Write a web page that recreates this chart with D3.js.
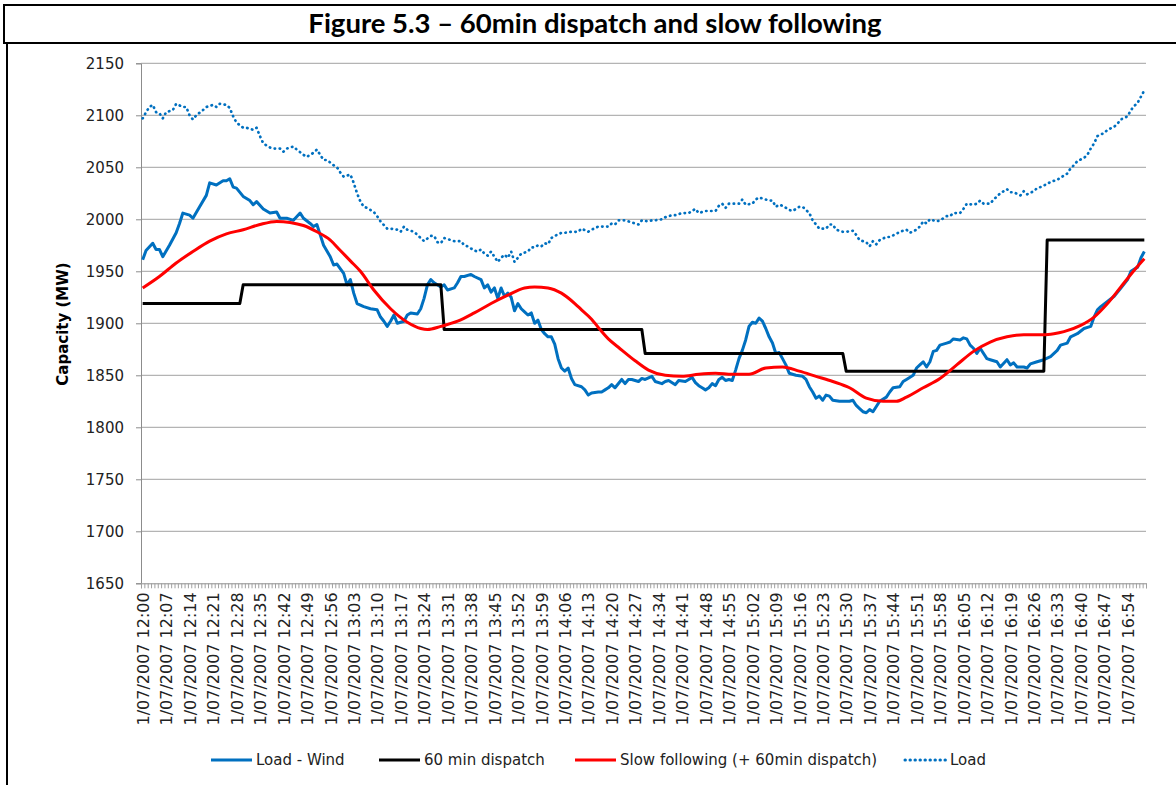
<!DOCTYPE html>
<html>
<head>
<meta charset="utf-8">
<script src="https://cdn.jsdelivr.net/npm/d3@7"></script>
<style>
  body { margin: 0; background: #fff; }
  svg { display: block; }
  .tick text { fill: #222; }
</style>
</head>
<body>
<svg width="1176" height="785"></svg>
<script>
// x values are minutes after 12:00 on 1/07/2007 (one category per minute)
var startHour = 12, nMinutes = 300;
var datePrefix = "1/07/2007 ";
var tickLabels = ["12:00","12:07","12:14","12:21","12:28","12:35","12:42","12:49","12:56","13:03",
  "13:10","13:17","13:24","13:31","13:38","13:45","13:52","13:59","14:06","14:13","14:20","14:27",
  "14:34","14:41","14:48","14:55","15:02","15:09","15:16","15:23","15:30","15:37","15:44","15:51",
  "15:58","16:05","16:12","16:19","16:26","16:33","16:40","16:47","16:54"];
var yTicks = [1650,1700,1750,1800,1850,1900,1950,2000,2050,2100,2150];

var seriesNames = ["Load - Wind", "60 min dispatch", "Slow following (+ 60min dispatch)", "Load"];

// Load - Wind  [minute, MW]
var loadWind = [[0,1961],[1,1970],[3,1977],[4,1971],[5,1971],[6,1964],[8,1975],[10,1987],[11,1996],[12,2006],
  [14,2004],[15,2001],[17,2012],[19,2023],[20,2035],[22,2033],[24,2037],[25,2037],[26,2039],[27,2031],[28,2030],
  [30,2022],[32,2018],[33,2014],[34,2017],[36,2010],[38,2006],[40,2007],[41,2001],[43,2001],[45,1999],[47,2006],
  [48,2001],[50,1996],[51,1993],[52,1995],[53,1985],[54,1975],[56,1964],[57,1956],[58,1957],[60,1948],[61,1937],
  [62,1942],[63,1929],[64,1919],[66,1916],[68,1914],[70,1913],[71,1906],[72,1902],[73,1897],[74,1902],[75,1908],
  [76,1900],[78,1902],[79,1908],[80,1910],[82,1909],[83,1914],[84,1924],[85,1937],[86,1942],[87,1939],[89,1935],
  [90,1937],[91,1932],[93,1934],[94,1939],[95,1945],[96,1945],[98,1947],[99,1945],[101,1942],[102,1934],[103,1937],
  [104,1930],[105,1934],[106,1924],[107,1934],[108,1926],[109,1929],[110,1925],[111,1912],[112,1919],[113,1914],
  [114,1911],[115,1908],[116,1910],[117,1900],[118,1903],[119,1894],[120,1890],[121,1887],[122,1887],[123,1880],
  [124,1866],[125,1857],[126,1854],[127,1857],[128,1847],[129,1841],[131,1839],[132,1836],[133,1831],[134,1833],
  [136,1834],[137,1834],[138,1836],[139,1838],[140,1841],[141,1838],[143,1846],[144,1842],[145,1846],[146,1846],
  [148,1844],[149,1847],[150,1846],[152,1849],[153,1844],[155,1842],[156,1844],[157,1845],[159,1841],[160,1845],
  [162,1844],[163,1846],[164,1848],[165,1843],[166,1840],[167,1838],[168,1836],[169,1838],[170,1842],[171,1840],
  [172,1846],[173,1848],[174,1845],[175,1846],[176,1845],[177,1855],[178,1866],[179,1874],[180,1884],[181,1897],
  [182,1901],[183,1900],[184,1905],[185,1902],[186,1895],[187,1887],[188,1881],[189,1871],[190,1872],[191,1866],
  [192,1860],[193,1852],[195,1850],[197,1849],[198,1846],[199,1839],[200,1834],[201,1828],[202,1830],[203,1826],
  [204,1831],[205,1830],[206,1826],[208,1825],[211,1825],[212,1826],[213,1821],[214,1818],[215,1815],[216,1814],
  [217,1817],[218,1815],[219,1820],[220,1825],[222,1829],[223,1834],[224,1838],[226,1839],[227,1844],[228,1846],
  [230,1850],[231,1857],[232,1860],[233,1863],[234,1858],[235,1863],[236,1873],[237,1874],[238,1879],[240,1881],
  [241,1882],[242,1885],[244,1884],[245,1886],[246,1885],[247,1879],[248,1876],[249,1871],[250,1876],[252,1866],
  [253,1865],[255,1863],[256,1858],[258,1865],[259,1860],[260,1862],[261,1858],[263,1858],[264,1857],[265,1861],
  [267,1863],[269,1865],[271,1868],[273,1874],[274,1879],[276,1881],[277,1887],[279,1890],[281,1895],[283,1897],
  [284,1906],[285,1913],[286,1916],[288,1921],[290,1926],[292,1934],[294,1942],[295,1950],[297,1954],[298,1963],
  [299,1969]];

// 60 min dispatch: hourly blocks, first minute of each block and its level
var dispatchStart = [0, 30, 90, 150, 210, 270];
var dispatchValue = [1919, 1937, 1894, 1871, 1854, 1980];

// Slow following (+ 60min dispatch)
var slowFollow = [[0,1934],[5,1945],[10,1958],[15,1969],[20,1979],[25,1986],[30,1990],[35,1995],[40,1998],
  [44,1997],[48,1994],[52,1988],[56,1980],[59,1970],[62,1960],[65,1950],[69,1932],[74,1914],[79,1901],[83,1895],
  [85,1894],[89,1897],[94,1902],[99,1910],[104,1919],[109,1927],[114,1934],[117,1935],[121,1934],[125,1929],
  [129,1919],[131,1913],[134,1904],[136,1896],[139,1885],[142,1877],[147,1864],[151,1855],[156,1850],[161,1849],
  [166,1851],[171,1852],[176,1851],[181,1851],[186,1857],[191,1858],[196,1854],[201,1849],[206,1844],[211,1838],
  [216,1828],[221,1825],[225,1825],[228,1829],[233,1838],[238,1847],[243,1860],[248,1873],[253,1882],[258,1887],
  [263,1889],[269,1889],[272,1890],[275,1892],[280,1898],[284,1906],[288,1919],[292,1935],[296,1951],[299,1962]];

// Load
var load = [[0,2097],[1,2103],[2,2108],[3,2110],[4,2103],[5,2102],[6,2097],[7,2103],[9,2105],[10,2111],[12,2108],
  [13,2108],[14,2100],[15,2096],[16,2100],[18,2105],[19,2108],[21,2110],[22,2108],[23,2111],[25,2110],[26,2107],
  [27,2099],[28,2093],[30,2088],[31,2088],[33,2086],[34,2088],[35,2080],[36,2073],[38,2069],[39,2068],[41,2068],
  [42,2065],[43,2068],[45,2070],[46,2067],[48,2062],[49,2060],[51,2064],[52,2067],[54,2057],[55,2057],[57,2052],
  [58,2050],[59,2045],[60,2041],[62,2043],[63,2035],[64,2025],[65,2017],[66,2012],[67,2011],[69,2007],[70,2003],
  [71,1998],[73,1991],[74,1991],[76,1990],[77,1988],[78,1993],[79,1990],[81,1988],[82,1985],[83,1982],[84,1979],
  [86,1984],[87,1984],[88,1978],[89,1977],[90,1982],[91,1981],[93,1979],[95,1979],[96,1975],[97,1974],[99,1970],
  [100,1969],[101,1971],[102,1967],[103,1965],[104,1969],[106,1959],[107,1963],[108,1966],[109,1963],[110,1969],
  [111,1959],[112,1963],[113,1967],[114,1968],[115,1969],[116,1973],[117,1973],[118,1975],[119,1974],[120,1977],
  [121,1976],[122,1982],[123,1984],[125,1987],[126,1987],[128,1988],[130,1988],[131,1991],[133,1988],[134,1990],
  [136,1993],[137,1993],[139,1993],[140,1996],[141,1995],[142,1999],[144,1999],[145,1998],[147,1996],[148,1995],
  [149,1999],[151,1998],[152,1999],[153,1999],[155,2000],[156,2002],[158,2004],[159,2004],[161,2006],[162,2006],
  [163,2006],[165,2010],[166,2006],[168,2008],[169,2008],[171,2008],[172,2013],[173,2015],[174,2011],[175,2015],
  [177,2015],[178,2015],[179,2019],[180,2014],[182,2015],[183,2019],[184,2021],[185,2020],[187,2018],[188,2018],
  [189,2012],[190,2014],[191,2013],[193,2009],[194,2008],[196,2012],[197,2012],[198,2009],[199,2006],[200,1999],
  [201,1995],[202,1991],[204,1991],[205,1995],[206,1995],[207,1990],[209,1988],[210,1988],[212,1989],[213,1985],
  [214,1980],[216,1978],[217,1974],[218,1979],[219,1976],[220,1980],[222,1983],[223,1983],[225,1986],[226,1988],
  [228,1990],[229,1987],[231,1990],[232,1993],[233,1998],[234,1996],[235,2000],[237,1998],[238,1999],[240,2003],
  [241,2003],[242,2006],[244,2006],[245,2010],[246,2015],[248,2014],[249,2015],[250,2018],[251,2015],[253,2015],
  [254,2019],[255,2022],[256,2025],[258,2029],[259,2026],[260,2026],[262,2023],[263,2027],[264,2024],[266,2027],
  [267,2030],[268,2031],[270,2034],[271,2036],[273,2038],[275,2042],[276,2044],[277,2049],[278,2052],[279,2056],
  [281,2059],[282,2062],[283,2068],[284,2073],[285,2080],[287,2083],[288,2086],[290,2089],[291,2092],[292,2096],
  [294,2099],[295,2105],[296,2109],[297,2112],[298,2118],[299,2124]];

var svg = d3.select("svg"),
    plotLeft = 141, plotRight = 1146, plotTop = 63.3, plotBottom = 583.3;

var blue = "#0070c0", red = "#ff0000";
var font = "'DejaVu Sans', Verdana, sans-serif";

// frame + title box
svg.append("rect").attr("x", 4).attr("y", 5).attr("width", 1190).attr("height", 38)
    .attr("fill", "none").attr("stroke", "#000").attr("stroke-width", 2);
svg.append("line").attr("x1", 7).attr("x2", 7).attr("y1", 43).attr("y2", 785)
    .attr("stroke", "#000").attr("stroke-width", 2);
svg.append("text").attr("x", 595).attr("y", 33).attr("text-anchor", "middle")
    .style("font-family", "Lato, 'Open Sans', sans-serif").style("font-weight", "bold").style("font-size", "27.5px")
    .text("Figure 5.3 \u2013 60min dispatch and slow following");

var x = d3.scaleLinear().domain([0, nMinutes]).range([plotLeft, plotRight]);
var y = d3.scaleLinear().domain([1650, 2150]).range([plotBottom, plotTop]);
function cx(m) { return x(m + 0.5); }

function minuteOf(label) {
  var p = label.split(":");
  return (+p[0] - startHour) * 60 + (+p[1]);
}

// gridlines
svg.append("g").selectAll("line").data(yTicks.slice(1)).enter().append("line")
    .attr("x1", plotLeft).attr("x2", plotRight)
    .attr("y1", function(d) { return y(d); }).attr("y2", function(d) { return y(d); })
    .attr("stroke", "#b4b4b4").attr("stroke-width", 1.2);

// y axis
var yAxis = svg.append("g").attr("transform", "translate(" + plotLeft + ",0)")
    .call(d3.axisLeft(y).tickValues(yTicks).tickSize(5).tickPadding(12).tickFormat(d3.format("d")));
yAxis.selectAll("text").style("font-family", font).style("font-size", "15px");
yAxis.selectAll("line, path").attr("stroke", "#8c8c8c");

// x axis: tick mark on every category boundary
var xAxis = svg.append("g").attr("transform", "translate(0," + plotBottom + ")")
    .call(d3.axisBottom(x).tickValues(d3.range(0, nMinutes + 1)).tickSize(5).tickFormat(""));
xAxis.selectAll("line, path").attr("stroke", "#a0a0a0");
xAxis.select("path").attr("stroke", "#8c8c8c");

// x labels, rotated
var xLab = svg.append("g").attr("transform", "translate(0," + plotBottom + ")")
    .call(d3.axisBottom(x).tickValues(tickLabels.map(function(t) { return minuteOf(t) + 0.5; }))
      .tickSize(0).tickFormat(function(d, i) { return datePrefix + tickLabels[i]; }));
xLab.select("path").remove();
xLab.selectAll("text")
    .style("font-family", font).style("font-size", "16px")
    .attr("text-anchor", "end")
    .attr("transform", "rotate(-90)")
    .attr("x", -9).attr("y", 0).attr("dy", "0.36em");

// y title
svg.append("text").attr("transform", "translate(68,324) rotate(-90)").attr("text-anchor", "middle")
    .style("font-family", font).style("font-weight", "bold").style("font-size", "15px")
    .text("Capacity (MW)");

// series
var line = d3.line().x(function(d) { return cx(d[0]); }).y(function(d) { return y(d[1]); });
var smooth = d3.line().curve(d3.curveMonotoneX).x(function(d) { return cx(d[0]); }).y(function(d) { return y(d[1]); });

var dispatch = [];
dispatchStart.forEach(function(s, i) {
  var end = i < dispatchStart.length - 1 ? dispatchStart[i + 1] - 1 : nMinutes - 1;
  dispatch.push([s, dispatchValue[i]], [end, dispatchValue[i]]);
});

var plot = svg.append("g").attr("fill", "none").attr("stroke-linejoin", "round");
plot.append("path").attr("d", line(load)).attr("stroke", blue).attr("stroke-width", 2.7)
    .attr("stroke-linecap", "round").attr("stroke-dasharray", "0.4,4.6");
plot.append("path").attr("d", line(loadWind)).attr("stroke", blue).attr("stroke-width", 3);
plot.append("path").attr("d", line(dispatch)).attr("stroke", "#000").attr("stroke-width", 3);
plot.append("path").attr("d", smooth(slowFollow)).attr("stroke", red).attr("stroke-width", 3);

// legend
var legendItems = [
  { name: seriesNames[0], x: 211, color: blue, dash: null },
  { name: seriesNames[1], x: 379, color: "#000", dash: null },
  { name: seriesNames[2], x: 575, color: red, dash: null },
  { name: seriesNames[3], x: 905, color: blue, dash: "0.4,4.6" }
];
var lg = svg.append("g").attr("transform", "translate(0,760)");
var li = lg.selectAll("g").data(legendItems).enter().append("g")
    .attr("transform", function(d) { return "translate(" + d.x + ",0)"; });
li.append("line").attr("x1", 0).attr("x2", 41).attr("y1", 0).attr("y2", 0)
    .attr("stroke", function(d) { return d.color; }).attr("stroke-width", 3)
    .attr("stroke-linecap", function(d) { return d.dash ? "round" : "butt"; })
    .attr("stroke-dasharray", function(d) { return d.dash; });
li.append("text").attr("x", 45).attr("dy", "0.35em")
    .style("font-family", font).style("font-size", "15px").style("fill", "#222")
    .text(function(d) { return d.name; });
</script>
</body>
</html>
